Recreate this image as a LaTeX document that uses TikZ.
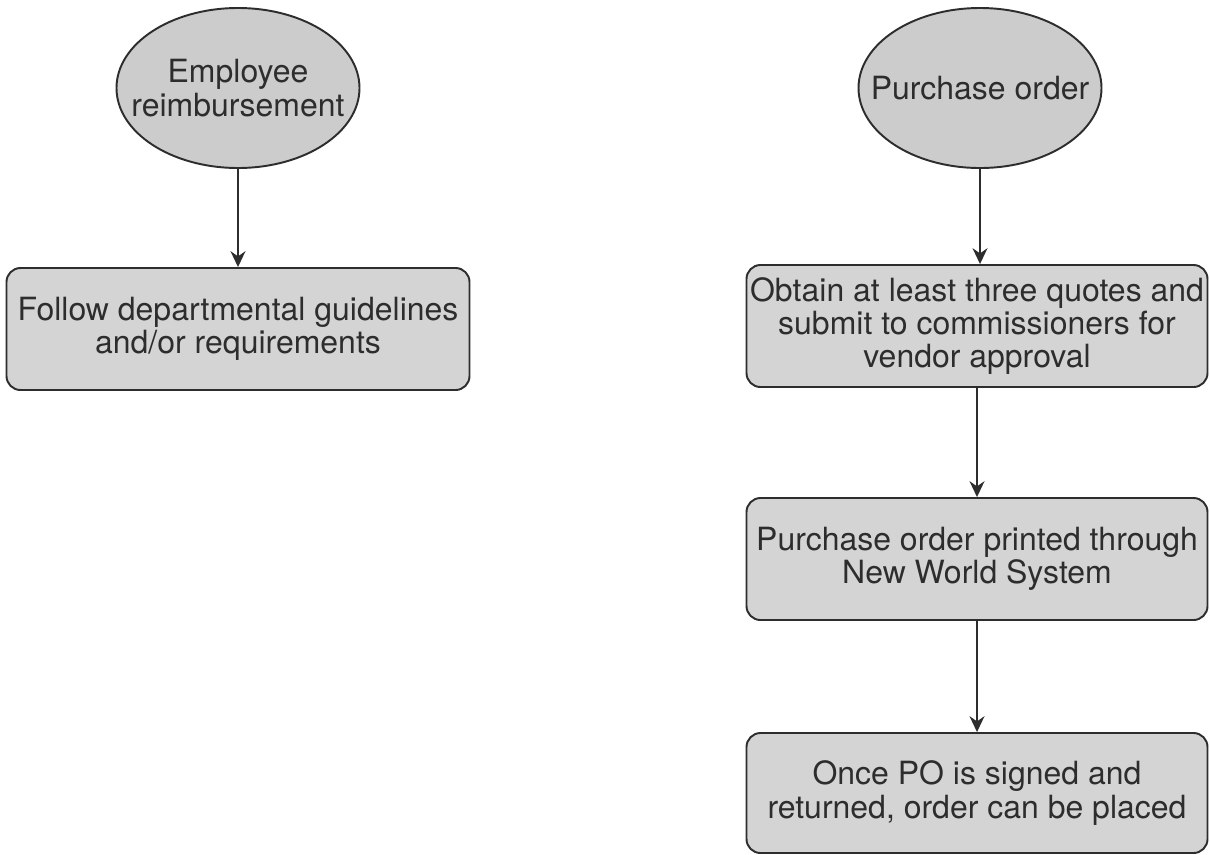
\documentclass[tikz,border=0pt]{standalone}
\usepackage{fontspec}
\setmainfont{TeX Gyre Heros}
\usetikzlibrary{shapes.geometric,arrows.meta}
\definecolor{fillgray}{RGB}{204,204,204}
\definecolor{boxgray}{RGB}{212,212,212}
\definecolor{inkgray}{RGB}{45,45,45}
\tikzset{
  startoval/.style={ellipse, draw=inkgray, fill=fillgray, line width=1.1pt, minimum width=4.86cm, minimum height=3.2cm, inner xsep=-2cm, inner ysep=0pt, text=inkgray, align=center, font=\fontsize{18.2}{19}\selectfont},
  stepbox/.style={rectangle, rounded corners=0.28cm, draw=inkgray, fill=boxgray, line width=1.1pt, minimum width=9.22cm, minimum height=2.44cm, inner sep=0pt, text=inkgray, align=center, font=\fontsize{18.2}{19}\selectfont},
  flow/.style={draw=inkgray, line width=1.1pt, -{Stealth[length=9pt,width=8.5pt]}}
}
\begin{document}
\begin{tikzpicture}
\useasboundingbox (0,0) rectangle (24.2,-17.08);
\node[startoval] (er) at (4.76,-1.76) {Employee\\reimbursement};
\node[stepbox, minimum width=9.26cm] (fd) at (4.76,-6.58) {Follow departmental guidelines\\and/or requirements};
\node[startoval] (po) at (19.6,-1.76) {Purchase order};
\node[stepbox] (oq) at (19.54,-6.52) {Obtain at least three quotes and\\submit to commissioners for\\vendor approval};
\node[stepbox] (pp) at (19.54,-11.18) {Purchase order printed through\\New World System};
\node[stepbox, minimum height=2.4cm] (op) at (19.54,-15.86) {Once PO is signed and\\returned, order can be placed};
\draw[flow] (er) -- (fd);
\draw[flow] (po.south) -- (po.south |- oq.north);
\draw[flow] (oq) -- (pp);
\draw[flow] (pp) -- (op);
\end{tikzpicture}
\end{document}
